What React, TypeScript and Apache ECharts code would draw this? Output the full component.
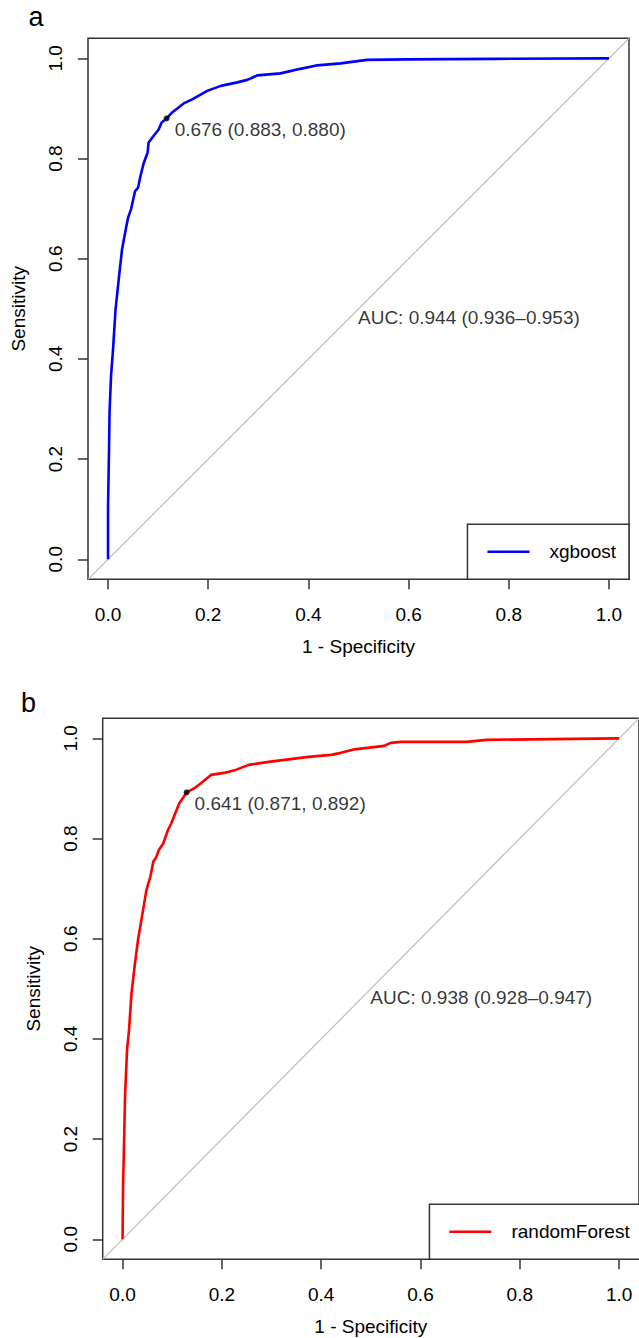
import { useEffect, useRef } from "react";
import * as echarts from "echarts";

const TICKS = [0, 0.2, 0.4, 0.6, 0.8, 1.0];
const TICK_LABELS = ["0.0", "0.2", "0.4", "0.6", "0.8", "1.0"];
const AXIS_MIN = -0.04;
const AXIS_MAX = 1.04;
const DIAGONAL_X = [-0.04, 1.04];
const DIAGONAL_Y = [-0.04, 1.04];

const XGB_NAME = "xgboost";
const XGB_FPR = [
  0, 0.0, 0.002, 0.003, 0.006, 0.01, 0.015, 0.022, 0.028, 0.036, 0.04, 0.046,
  0.054, 0.06, 0.065, 0.071, 0.079, 0.081, 0.09, 0.101, 0.107, 0.117, 0.128,
  0.151, 0.168, 0.198, 0.225, 0.258, 0.278, 0.298, 0.344, 0.384, 0.418, 0.464,
  0.517, 0.597, 0.773, 0.989, 1.0,
];
const XGB_TPR = [
  0, 0.106, 0.22, 0.293, 0.366, 0.419, 0.499, 0.565, 0.619, 0.662, 0.682, 0.699,
  0.735, 0.742, 0.766, 0.79, 0.812, 0.832, 0.844, 0.858, 0.872, 0.88, 0.892,
  0.91, 0.918, 0.935, 0.945, 0.952, 0.957, 0.966, 0.97, 0.979, 0.986, 0.99,
  0.997, 0.998, 0.999, 1.0, 1.0,
];

const RF_NAME = "randomForest";
const RF_FPR = [
  0, 0.001, 0.003, 0.005, 0.009, 0.013, 0.018, 0.025, 0.031, 0.039, 0.048,
  0.056, 0.062, 0.068, 0.073, 0.082, 0.091, 0.098, 0.114, 0.129, 0.144, 0.161,
  0.178, 0.204, 0.228, 0.254, 0.294, 0.334, 0.374, 0.42, 0.44, 0.467, 0.527,
  0.54, 0.56, 0.693, 0.733, 1.0,
];
const RF_TPR = [
  0, 0.105, 0.192, 0.285, 0.378, 0.418, 0.491, 0.551, 0.597, 0.644, 0.697,
  0.724, 0.754, 0.763, 0.777, 0.79, 0.816, 0.83, 0.87, 0.892, 0.9, 0.913,
  0.927, 0.931, 0.937, 0.947, 0.953, 0.958, 0.963, 0.967, 0.971, 0.978, 0.985,
  0.991, 0.993, 0.993, 0.997, 1.0,
];

const XGB_BEST = { threshold: 0.676, specificity: 0.883, sensitivity: 0.88 };
const RF_BEST = { threshold: 0.641, specificity: 0.871, sensitivity: 0.892 };
const XGB_AUC = { auc: 0.944, lo: 0.936, hi: 0.953 };
const RF_AUC = { auc: 0.938, lo: 0.928, hi: 0.947 };
const AUC_POS = [0.5, 0.5];

const PANEL_LETTERS = ["a", "b"];

const FONT = "'Liberation Sans', Arial, Helvetica, sans-serif";
const INK = "#000";
const FRAME = "#333";

function zip(xs: number[], ys: number[]) {
  return xs.map((x, i) => [x, ys[i]]);
}

function buildPanel(
  idx: number,
  name: string,
  color: string,
  fpr: number[],
  tpr: number[],
  best: { threshold: number; specificity: number; sensitivity: number },
  auc: { auc: number; lo: number; hi: number }
) {
  const axisCommon = {
    gridIndex: idx,
    type: "value" as const,
    min: AXIS_MIN,
    max: AXIS_MAX,
    axisLine: { show: false, onZero: false },
    splitLine: { show: false },
    axisTick: {
      show: true,
      inside: false,
      length: 10,
      customValues: TICKS,
      lineStyle: { color: FRAME, width: 1.5 },
    },
    nameLocation: "middle" as const,
    nameTextStyle: { fontFamily: FONT, fontSize: 19, color: INK },
  };
  const fmt = (v: number) => {
    const i = TICKS.findIndex((t) => Math.abs(t - v) < 1e-9);
    return i >= 0 ? TICK_LABELS[i] : v.toFixed(1);
  };
  const xAxis = {
    ...axisCommon,
    position: "bottom",
    name: "1 - Specificity",
    nameGap: 58,
    axisLabel: {
      customValues: TICKS,
      formatter: fmt,
      margin: 26,
      fontFamily: FONT,
      fontSize: 19,
      color: INK,
    },
  };
  const yAxis = {
    ...axisCommon,
    position: "left",
    name: "Sensitivity",
    nameGap: 60,
    nameRotate: 90,
    axisLabel: {
      customValues: TICKS,
      formatter: fmt,
      rotate: 90,
      margin: 23,
      fontFamily: FONT,
      fontSize: 19,
      color: INK,
    },
  };
  const series = [
    {
      type: "line",
      xAxisIndex: idx,
      yAxisIndex: idx,
      data: zip(DIAGONAL_X, DIAGONAL_Y),
      showSymbol: false,
      silent: true,
      lineStyle: { color: "#bdbdbd", width: 1.2 },
      z: 1,
    },
    {
      type: "line",
      name,
      xAxisIndex: idx,
      yAxisIndex: idx,
      data: zip(fpr, tpr),
      showSymbol: false,
      color,
      lineStyle: { color, width: 2.6 },
      z: 2,
    },
    {
      type: "scatter",
      xAxisIndex: idx,
      yAxisIndex: idx,
      data: [[+(1 - best.specificity).toFixed(3), best.sensitivity]],
      symbolSize: 6,
      itemStyle: { color: INK },
      z: 3,
      label: {
        show: true,
        position: "right",
        distance: 5,
        offset: [0, 11],
        formatter: `${best.threshold.toFixed(3)} (${best.specificity.toFixed(
          3
        )}, ${best.sensitivity.toFixed(3)})`,
        fontFamily: FONT,
        fontSize: 19,
        color: INK,
      },
    },
    {
      type: "scatter",
      xAxisIndex: idx,
      yAxisIndex: idx,
      data: [AUC_POS],
      symbolSize: 1,
      itemStyle: { color: "rgba(0,0,0,0)" },
      z: 3,
      label: {
        show: true,
        position: [0, 0],
        align: "left",
        verticalAlign: "top",
        formatter: `AUC: ${auc.auc.toFixed(3)} (${auc.lo.toFixed(
          3
        )}\u2013${auc.hi.toFixed(3)})`,
        fontFamily: FONT,
        fontSize: 19,
        color: INK,
      },
    },
  ];
  return { xAxis, yAxis, series };
}

export default function App() {
  const ref = useRef<HTMLDivElement>(null);
  useEffect(() => {
    document.body.style.margin = "0";
    if (!ref.current) return;
    const chart = echarts.init(ref.current, undefined, { renderer: "svg" });
    const pa = buildPanel(0, XGB_NAME, "#0000ff", XGB_FPR, XGB_TPR, XGB_BEST, XGB_AUC);
    const pb = buildPanel(1, RF_NAME, "#ff0000", RF_FPR, RF_TPR, RF_BEST, RF_AUC);
    const gridStyle = {
      show: true,
      borderColor: FRAME,
      borderWidth: 1.5,
      backgroundColor: "transparent",
      containLabel: false,
    };
    const legendCommon = {
      orient: "horizontal" as const,
      icon: "rect",
      itemWidth: 42,
      itemHeight: 2.6,
      borderColor: FRAME,
      borderWidth: 1.5,
      borderRadius: 0,
      backgroundColor: "#fff",
      selectedMode: false,
      textStyle: {
        fontFamily: FONT,
        fontSize: 19,
        color: INK,
        padding: [0, 0, 0, 15],
      },
    };
    chart.setOption({
      animation: false,
      backgroundColor: "#fff",
      grid: [
        { ...gridStyle, left: 88, top: 38.3, width: 541, height: 541 },
        { ...gridStyle, left: 102.7, top: 718.3, width: 541, height: 541 },
      ],
      xAxis: [pa.xAxis, pb.xAxis],
      yAxis: [pa.yAxis, pb.yAxis],
      legend: [
        {
          ...legendCommon,
          data: [XGB_NAME],
          right: 10,
          bottom: 1338 - 579.3,
          padding: [18, 13, 18, 20],
        },
        {
          ...legendCommon,
          data: [RF_NAME],
          right: -4.7,
          bottom: 1338 - 1259.3,
          padding: [18, 14, 18, 20],
        },
      ],
      graphic: [
        {
          type: "text",
          x: 36,
          y: 16.6,
          style: {
            text: PANEL_LETTERS[0],
            fontFamily: FONT,
            fontSize: 27,
            fill: INK,
            textAlign: "center",
            textVerticalAlign: "middle",
          },
        },
        {
          type: "text",
          x: 28.5,
          y: 702.6,
          style: {
            text: PANEL_LETTERS[1],
            fontFamily: FONT,
            fontSize: 27,
            fill: INK,
            textAlign: "center",
            textVerticalAlign: "middle",
          },
        },
      ],
      series: [...pa.series, ...pb.series],
    });
    return () => chart.dispose();
  }, []);
  return <div ref={ref} style={{ width: 639, height: 1338 }} />;
}
